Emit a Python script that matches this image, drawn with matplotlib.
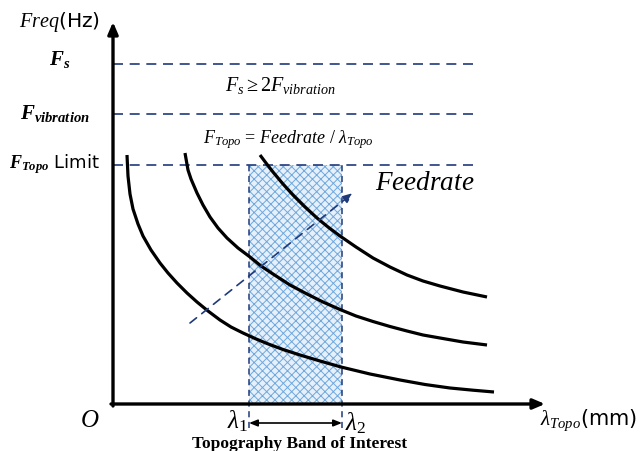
import numpy as np
import matplotlib.pyplot as plt

plt.rcParams['mathtext.fontset'] = 'custom'
plt.rcParams['mathtext.it'] = 'Liberation Serif:italic'
plt.rcParams['mathtext.rm'] = 'Liberation Serif'
plt.rcParams['mathtext.bf'] = 'Liberation Serif:bold:italic'
plt.rcParams['hatch.linewidth'] = 0.7

# schematic units: x ~ wavelength, y ~ frequency (origin at axis corner)
lam_low = [14, 15, 17, 20, 25, 30, 38, 47, 55, 64, 74, 84, 95, 107, 118, 130, 142, 154,
           170, 187, 207, 228, 257, 287, 312, 337, 360, 381]
f_low = [249, 228, 210, 195, 180, 168, 154, 141, 131, 121, 111, 102, 93, 84, 77, 71, 65.5, 60.5,
         54.5, 49, 43, 37, 30, 24, 19.5, 16, 13.8, 12]
lam_mid = [72, 75, 78, 84, 90, 97, 105, 114, 125, 137, 148, 160, 177, 194, 210, 227, 243, 260,
           277, 294, 310, 327, 350, 374]
f_mid = [251, 234, 225, 211, 199, 187, 176, 166, 156, 147, 138, 130, 119, 110, 102, 94.5, 88, 82.5,
         77.5, 73, 69, 66, 62, 59]
lam_high = [147, 153, 160, 170, 180, 192, 204, 215, 227, 243, 260, 277, 294, 310, 327, 350, 374]
f_high = [249, 241, 232, 220, 209, 197, 186, 177, 168, 157, 146, 137, 129, 123, 118, 112, 107]

f_s = 340
f_vib = 290
f_topo = 239
lam1, lam2 = 136, 229
level_end = 360
x_max, y_max = 432, 382
feed_start = (77, 81)
feed_end = (240, 211)

navy = '#1f3a7a'

fig = plt.figure(figsize=(6.44, 4.51), dpi=100)
ax = fig.add_axes([0, 0, 1, 1])
ax.set_xlim(-113, 531)
ax.set_ylim(-47, 404)
ax.axis('off')

# band of interest
ax.fill_between([lam1, lam2], 0, f_topo, facecolor='#e6f0fb', edgecolor='#6fa8dc',
                hatch='xxxx', linewidth=0, zorder=1)
ax.vlines([lam1, lam2], -24, f_topo, colors=navy, linestyles=(0, (4, 3)), linewidth=1.1, zorder=2)

# frequency levels
for lev in [f_s, f_vib, f_topo]:
    ax.hlines(lev, 0, level_end, colors=navy, linestyles=(0, (6, 4)), linewidth=1.2, zorder=2)

# curves
for xs, ys in [(lam_low, f_low), (lam_mid, f_mid), (lam_high, f_high)]:
    ax.plot(xs, ys, color='black', lw=2.3, solid_capstyle='butt', solid_joinstyle='round', zorder=3)

# axes with arrows
ax.annotate('', xy=(0, y_max), xytext=(0, -2),
            arrowprops=dict(arrowstyle='-|>,head_length=0.7,head_width=0.3', color='black', lw=2.4, shrinkA=0, shrinkB=0))
ax.annotate('', xy=(x_max, 0), xytext=(-2, 0),
            arrowprops=dict(arrowstyle='-|>,head_length=0.7,head_width=0.3', color='black', lw=2.4, shrinkA=0, shrinkB=0))

# feedrate arrow
ax.annotate('', xy=feed_end, xytext=feed_start,
            arrowprops=dict(arrowstyle='-|>,head_length=0.6,head_width=0.25', color=navy, lw=1.2,
                            linestyle=(0, (5, 4)), shrinkA=0, shrinkB=0), zorder=4)

# band width arrow
ax.annotate('', xy=(lam2, -19), xytext=(lam1, -19),
            arrowprops=dict(arrowstyle='<|-|>,head_length=0.5,head_width=0.2', color='black', lw=1.2,
                            shrinkA=0, shrinkB=0))

# labels
ax.text(-13, 382, r'$Freq$(Hz)', fontsize=14.5, ha='right', va='center', family='DejaVu Sans')
ax.text(-53, 345, r'$\mathbf{F_{s}}$', fontsize=15, ha='center', va='center')
ax.text(-58, 290, r'$\mathbf{F_{vibration}}$', fontsize=15, ha='center', va='center')
ax.text(-58, 240, r'$\mathbf{F_{Topo}}$ Limit', fontsize=13, ha='center', va='center', family='DejaVu Sans')
ax.text(167, 318, r'$F_{s} \geq 2F_{vibration}$', fontsize=14.5, ha='center', va='center')
ax.text(175, 264, r'$F_{Topo}$ = $Feedrate$ / $\lambda_{Topo}$', fontsize=13, ha='center', va='center',
        family='Liberation Serif')
ax.text(312, 221, r'$Feedrate$', fontsize=19.5, ha='center', va='center')
ax.text(-23, -16, r'$O$', fontsize=18, ha='center', va='center')
ax.text(lam1 - 1, -17, r'$\lambda_{1}$', fontsize=18, ha='right', va='center')
ax.text(lam2 + 3, -19, r'$\lambda_{2}$', fontsize=18, ha='left', va='center')
ax.text(187, -40, 'Topography Band of Interest', fontsize=12.5, fontweight='bold', ha='center', va='center',
        family='Liberation Serif')
ax.text(427, -16, r'$\lambda_{Topo}$(mm)', fontsize=15, ha='left', va='center', family='DejaVu Sans')

fig.savefig('out.png', dpi=100)
